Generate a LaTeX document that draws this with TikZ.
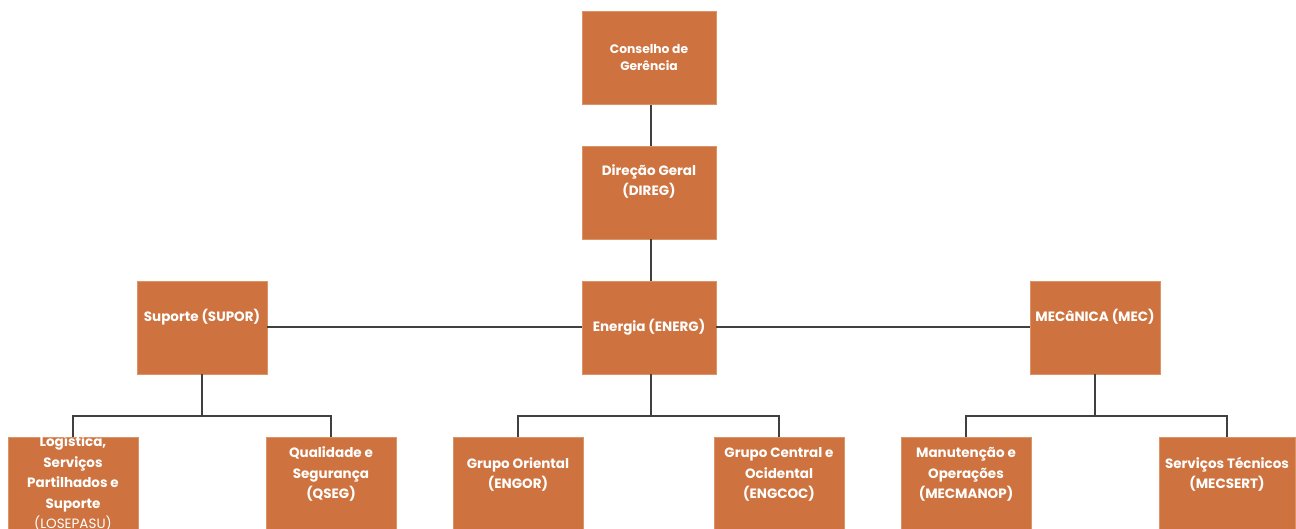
\documentclass[tikz,border=0pt]{standalone}
\usepackage{fontspec}
\setmainfont{Poppins}
\usepackage{tikz}
\definecolor{UnitOrange}{HTML}{CE733F}
\definecolor{UnitEdge}{HTML}{DA9466}
\definecolor{LinkGray}{HTML}{404040}

\begin{document}
\begin{tikzpicture}[
  x=1pt,y=-1pt,
  unit/.style={fill=UnitOrange,draw=UnitEdge,line width=.8pt,
    minimum width=134pt,minimum height=93pt,inner sep=0pt},
  unitnarrow/.style={unit,minimum width=130pt},
  caption/.style={text=white,align=center,inner sep=0pt,
    font=\fontsize{13.5}{20.5}\selectfont\bfseries},
  captionsmall/.style={caption,font=\fontsize{12.3}{17}\selectfont\bfseries},
  link/.style={draw=LinkGray,line width=2pt}
]
  \useasboundingbox (0,0) rectangle (1296,529);

  % top of the chart
  \node[unit,label={[captionsmall]center:{Conselho de\\Gerência}}]
    (cg) at (649,58) {};
  \node[unit,label={[caption,yshift=11pt]center:{Direção Geral\\(DIREG)}}]
    (direg) at (649,192.5) {};
  \node[unit,label={[caption]center:{Energia (ENERG)}}]
    (energ) at (649,327.5) {};
  \node[unitnarrow,label={[caption,yshift=10pt]center:{Suporte (SUPOR)}}]
    (supor) at (202,327.5) {};
  \node[unitnarrow,label={[caption,yshift=11pt]center:{MECâNICA (MEC)}}]
    (mec) at (1095,327.5) {};

  % units of the third level
  \node[unitnarrow,label={[caption]center:{Logística,\\Serviços\\Partilhados e\\Suporte\\\mdseries(LOSEPASU)}}]
    (losepasu) at (73,483.5) {};
  \node[unitnarrow,label={[caption,yshift=9pt]center:{Qualidade e\\Segurança\\(QSEG)}}]
    (qseg) at (331,483.5) {};
  \node[unitnarrow,label={[caption,yshift=9pt]center:{Grupo Oriental\\(ENGOR)}}]
    (engor) at (518,483.5) {};
  \node[unitnarrow,label={[caption,yshift=9pt]center:{Grupo Central e\\Ocidental\\(ENGCOC)}}]
    (engcoc) at (779,483.5) {};
  \node[unitnarrow,label={[caption,yshift=9pt]center:{Manutenção e\\Operações\\(MECMANOP)}}]
    (mecmanop) at (966,483.5) {};
  \node[unitnarrow,minimum width=136pt,label={[caption,yshift=9pt]center:{Serviços Técnicos\\(MECSERT)}}]
    (mecsert) at (1227,483.5) {};

  \coordinate (suporbus) at (202,416);
  \coordinate (energbus) at (651,416);
  \coordinate (mecbus) at (1095,416);

  \draw[link] (cg.south -| 651,0) -- (direg.north -| 651,0);
  \draw[link] (direg.south -| 651,0) -- (energ.north -| 651,0);
  \draw[link] (supor.east) -- (energ.west);
  \draw[link] (energ.east) -- (mec.west);

  \draw[link] (supor.south) -- (suporbus);
  \draw[link] (losepasu.north) |- (suporbus) -| (qseg.north);
  \draw[link] (energ.south -| energbus) -- (energbus);
  \draw[link] (engor.north) |- (energbus) -| (engcoc.north);
  \draw[link] (mec.south) -- (mecbus);
  \draw[link] (mecmanop.north) |- (mecbus) -| (mecsert.north);
\end{tikzpicture}
\end{document}
